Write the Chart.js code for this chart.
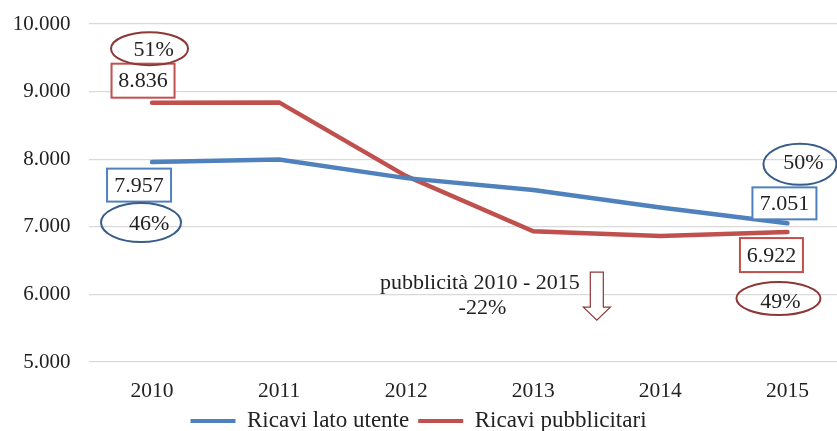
<!DOCTYPE html>
<html>
<head>
<meta charset="utf-8">
<script src="https://cdn.jsdelivr.net/npm/chart.js@4/dist/chart.umd.min.js"></script>
<style>
  body { margin: 0; background: #fff; overflow: hidden; }
</style>
</head>
<body>
<canvas id="ricaviChart" width="837" height="431"></canvas>
<script>
// data
var years = [2010, 2011, 2012, 2013, 2014, 2015];
var ricaviUtente = [7957, 7995, 7720, 7545, 7287, 7051];
var ricaviPubblicitari = [8836, 8840, 7750, 6935, 6865, 6922];
var yTicks = [5000, 6000, 7000, 8000, 9000, 10000];
// share of total at start / end year
var quotaUtente = ['46%', '50%'];
var quotaPubblicitari = ['51%', '49%'];
var notaTesto = ['pubblicità 2010 - 2015', '-22%'];

var FONT = '"Liberation Serif", "Times New Roman", serif';
var BLUE = '#4F81BD', RED = '#C0504D';
var BLUE_DARK = '#385D8A', RED_DARK = '#8C3836';

function fmt(v) {
  return String(v).replace(/\B(?=(\d{3})+(?!\d))/g, '.');
}

function toPoints(arr) {
  return years.map(function (y, i) { return { x: y, y: arr[i] }; });
}

// labels around first and last point of each series
var boxNotes = [
  { ds: 1, i: 0, dx: -9, dy: -22, w: 63, h: 34, color: RED },
  { ds: 0, i: 0, dx: -13, dy: 23, w: 64, h: 33, color: BLUE },
  { ds: 0, i: 5, dx: -3, dy: -20, w: 64, h: 32, color: BLUE },
  { ds: 1, i: 5, dx: -16, dy: 23, w: 63, h: 34, color: RED }
];
var ellipseNotes = [
  { ds: 1, i: 0, text: quotaPubblicitari[0], dx: -2.5, dy: -54, rx: 38.5, ry: 16.5, tx: 4, ty: 2, color: RED_DARK },
  { ds: 0, i: 0, text: quotaUtente[0], dx: -11, dy: 60.5, rx: 40, ry: 19.5, tx: 8, ty: 2, color: BLUE_DARK },
  { ds: 0, i: 5, text: quotaUtente[1], dx: 12.5, dy: -59, rx: 36.5, ry: 20.5, tx: 3.5, ty: -1, color: BLUE_DARK },
  { ds: 1, i: 5, text: quotaPubblicitari[1], dx: -9, dy: 66.5, rx: 42, ry: 16.5, tx: 2, ty: 4, color: RED_DARK }
];

var notesPlugin = {
  id: 'notes',
  afterDraw: function (chart) {
    var ctx = chart.ctx;
    var xs = chart.scales.x, ys = chart.scales.y;
    ctx.save();
    ctx.font = '22px ' + FONT;
    ctx.textAlign = 'center';
    ctx.textBaseline = 'middle';

    boxNotes.forEach(function (n) {
      var p = chart.getDatasetMeta(n.ds).data[n.i];
      var v = chart.data.datasets[n.ds].data[n.i].y;
      var cx = p.x + n.dx, cy = p.y + n.dy;
      ctx.fillStyle = '#fff';
      ctx.fillRect(cx - n.w / 2, cy - n.h / 2, n.w, n.h);
      ctx.strokeStyle = n.color;
      ctx.lineWidth = 2;
      ctx.strokeRect(cx - n.w / 2, cy - n.h / 2, n.w, n.h);
      ctx.fillStyle = '#222';
      ctx.fillText(fmt(v), cx, cy + 1);
    });

    ellipseNotes.forEach(function (n) {
      var p = chart.getDatasetMeta(n.ds).data[n.i];
      var cx = p.x + n.dx, cy = p.y + n.dy;
      ctx.fillStyle = '#222';
      ctx.fillText(n.text, cx + n.tx, cy + n.ty);
      ctx.beginPath();
      ctx.ellipse(cx, cy, n.rx, n.ry, 0, 0, Math.PI * 2);
      ctx.strokeStyle = n.color;
      ctx.lineWidth = 2;
      ctx.stroke();
    });

    // text and down arrow between 2012 and 2014
    ctx.fillStyle = '#222';
    ctx.fillText(notaTesto[0], xs.getPixelForValue(2012.58), ys.getPixelForValue(6160));
    ctx.fillText(notaTesto[1], xs.getPixelForValue(2012.6), ys.getPixelForValue(5795));

    var ax = xs.getPixelForValue(2013.5);
    var top = ys.getPixelForValue(6330), tip = ys.getPixelForValue(5620);
    var neck = tip - 13;
    ctx.beginPath();
    ctx.moveTo(ax - 6.5, top);
    ctx.lineTo(ax + 6.5, top);
    ctx.lineTo(ax + 6.5, neck);
    ctx.lineTo(ax + 13.5, neck);
    ctx.lineTo(ax, tip);
    ctx.lineTo(ax - 13.5, neck);
    ctx.lineTo(ax - 6.5, neck);
    ctx.closePath();
    ctx.fillStyle = '#fff';
    ctx.fill();
    ctx.strokeStyle = RED_DARK;
    ctx.lineWidth = 1.2;
    ctx.stroke();
    ctx.restore();
  }
};

var ctx = document.getElementById('ricaviChart').getContext('2d');

var chart = new Chart(ctx, {
  type: 'line',
  data: {
    datasets: [
      {
        label: 'Ricavi lato utente',
        data: toPoints(ricaviUtente),
        borderColor: BLUE,
        backgroundColor: BLUE,
        borderWidth: 4.5,
        borderCapStyle: 'round',
        pointRadius: 0,
        tension: 0
      },
      {
        label: 'Ricavi pubblicitari',
        data: toPoints(ricaviPubblicitari),
        borderColor: RED,
        backgroundColor: RED,
        borderWidth: 4.5,
        borderCapStyle: 'round',
        pointRadius: 0,
        tension: 0
      }
    ]
  },
  options: {
    responsive: false,
    animation: false,
    devicePixelRatio: 1,
    layout: { padding: { top: 24, left: 0, right: 0, bottom: -11.5 } },
    scales: {
      x: {
        type: 'linear',
        min: 2009.5,
        max: 2015.39,
        afterBuildTicks: function (scale) {
          scale.ticks = years.map(function (y) { return { value: y }; });
        },
        afterFit: function (scale) { scale.height = 38.5; },
        grid: { display: false, drawTicks: false },
        border: { display: false },
        ticks: {
          padding: 16,
          maxRotation: 0,
          color: '#222',
          font: { family: FONT, size: 21.5 },
          callback: function (v) { return String(v); }
        }
      },
      y: {
        min: 5000,
        max: 10000,
        afterBuildTicks: function (scale) {
          scale.ticks = yTicks.map(function (v) { return { value: v }; });
        },
        afterFit: function (scale) { scale.width = 88.5; },
        grid: { color: '#D9D9D9', lineWidth: 1.3, tickLength: 18, tickColor: 'rgba(0,0,0,0)' },
        border: { display: false },
        ticks: {
          padding: 0,
          color: '#222',
          font: { family: FONT, size: 21 },
          callback: function (v) { return fmt(v); }
        }
      }
    },
    plugins: {
      tooltip: { enabled: false },
      legend: {
        position: 'bottom',
        labels: {
          color: '#222',
          font: { family: FONT, size: 23 },
          boxWidth: 45,
          boxHeight: 4,
          padding: 9,
          generateLabels: function (c) {
            return Chart.defaults.plugins.legend.labels.generateLabels(c).map(function (l) {
              l.lineWidth = 0;
              return l;
            });
          }
        }
      }
    }
  },
  plugins: [notesPlugin]
});
</script>
</body>
</html>
